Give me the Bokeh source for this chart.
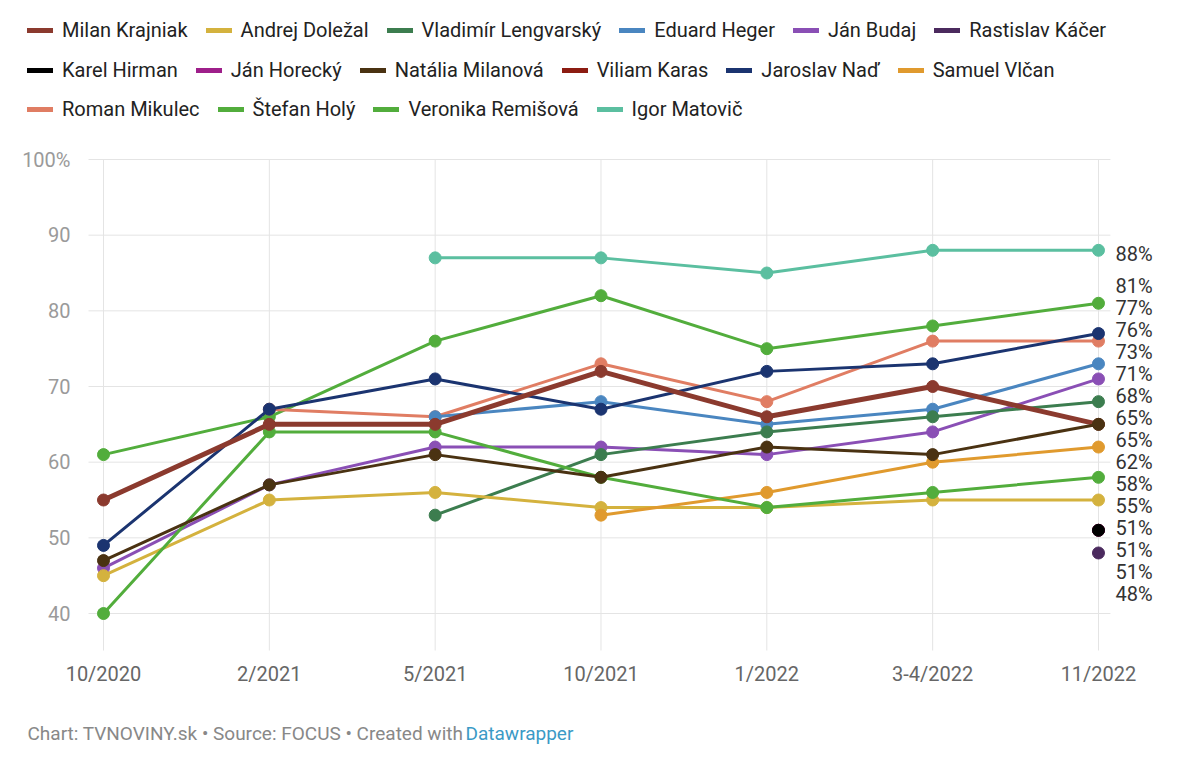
from bokeh.plotting import figure
from bokeh.models import (FixedTicker, Legend, LegendItem, LabelSet, Label,
                          ColumnDataSource, Range1d)
from bokeh.embed import file_html
from bokeh.resources import INLINE
from bokeh.core.properties import value

# ---------------- data ----------------
periods = ["10/2020", "2/2021", "5/2021", "10/2021", "1/2022", "3-4/2022", "11/2022"]

names = ["Milan Krajniak", "Andrej Doležal", "Vladimír Lengvarský", "Eduard Heger",
         "Ján Budaj", "Rastislav Káčer", "Karel Hirman", "Ján Horecký",
         "Natália Milanová", "Viliam Karas", "Jaroslav Naď", "Samuel Vlčan",
         "Roman Mikulec", "Štefan Holý", "Veronika Remišová", "Igor Matovič"]

colors = ["#8b3a2e", "#d4b23e", "#3c7d4f", "#4a86c0", "#8a4fb5", "#4b2a5e",
          "#000000", "#9e1f8a", "#4a3212", "#8c1c12", "#1b3470", "#e09a2e",
          "#e07d63", "#52ad3c", "#52ad3c", "#5bbfa0"]

krajniak   = [55, 65, 65, 72, 66, 70, 65]
dolezal    = [45, 55, 56, 54, 54, 55, 55]
lengvarsky = [None, None, 53, 61, 64, 66, 68]
heger      = [None, None, 66, 68, 65, 67, 73]
budaj      = [46, 57, 62, 62, 61, 64, 71]
kacer      = [None, None, None, None, None, None, 48]
hirman     = [None, None, None, None, None, None, 51]
horecky    = [None, None, None, None, None, None, 51]
milanova   = [47, 57, 61, 58, 62, 61, 65]
karas      = [None, None, None, None, None, None, 51]
nad        = [49, 67, 71, 67, 72, 73, 77]
vlcan      = [None, None, None, 53, 56, 60, 62]
mikulec    = [None, 67, 66, 73, 68, 76, 76]
holy       = [40, 64, 64, 58, 54, 56, 58]
remisova   = [61, 66, 76, 82, 75, 78, 81]
matovic    = [None, None, 87, 87, 85, 88, 88]

series = [krajniak, dolezal, lengvarsky, heger, budaj, kacer, hirman, horecky,
          milanova, karas, nad, vlcan, mikulec, holy, remisova, matovic]

# stacking order of the drawn series (first = bottom)
draw_names = ["Igor Matovič", "Veronika Remišová", "Roman Mikulec", "Viliam Karas",
              "Ján Horecký", "Karel Hirman", "Rastislav Káčer", "Ján Budaj",
              "Eduard Heger", "Jaroslav Naď", "Vladimír Lengvarský", "Andrej Doležal",
              "Samuel Vlčan", "Štefan Holý", "Milan Krajniak", "Natália Milanová"]

y_ticks = [40, 50, 60, 70, 80, 90, 100]

# ---------------- layout constants (pixels) ----------------
W, H = 1184, 760
FONT = "Roboto"
F_LEFT = 19                     # frame left edge (legend/footer start inside frame)
FRAME_W = W - F_LEFT
FRAME_H = H
PPU = 7.567                     # px per percentage point
TOP_100 = 159                   # pixel row of the 100 % gridline
Y_END = 100 + TOP_100 / PPU
Y_START = Y_END - FRAME_H / PPU
Y_AXIS_MIN = 35.11              # lower end of the plotting area
X_PX = 165.83                   # px per category step
X0_PX = 103                     # pixel column of the first category
X_START = -(X0_PX - F_LEFT) / X_PX
X_END = X_START + FRAME_W / X_PX
GRID_START = (88 - X0_PX) / X_PX
GRID_END = 6.072

xs = list(range(len(periods)))

p = figure(width=W, height=H, output_backend="svg", toolbar_location=None,
           x_range=Range1d(X_START, X_END), y_range=Range1d(Y_START, Y_END),
           min_border_left=F_LEFT, min_border_right=0,
           min_border_top=0, min_border_bottom=0)
p.outline_line_color = None
p.grid.visible = False

# axes (labels pulled inward with negative standoff)
p.xaxis.ticker = FixedTicker(ticks=xs)
p.xaxis.major_label_overrides = {i: lab for i, lab in enumerate(periods)}
p.yaxis.ticker = FixedTicker(ticks=y_ticks)
p.yaxis.major_label_overrides = {100: "100%"}
for ax in (p.xaxis, p.yaxis):
    ax.axis_line_color = None
    ax.major_tick_line_color = None
    ax.minor_tick_line_color = None
    ax.major_label_text_font = FONT
    ax.major_label_text_font_size = "20px"
p.xaxis.major_label_text_color = "#666666"
p.yaxis.major_label_text_color = "#9a9a9a"
p.yaxis.major_label_standoff = -(76 - F_LEFT)
p.xaxis.major_label_standoff = -(H - 655)

# gridlines limited to the plotting area
p.segment(x0=[GRID_START] * len(y_ticks), x1=[GRID_END] * len(y_ticks),
          y0=y_ticks, y1=y_ticks, line_color="#e4e4e4", line_width=1)
p.segment(x0=xs, x1=xs, y0=[Y_AXIS_MIN] * len(xs), y1=[100] * len(xs),
          line_color="#e4e4e4", line_width=1)

for nm in draw_names:
    i = names.index(nm)
    ys = [float("nan") if v is None else v for v in series[i]]
    src = ColumnDataSource(dict(x=xs, y=ys))
    lw = 5 if i == 0 else 3
    p.line("x", "y", source=src, line_color=colors[i], line_width=lw,
           line_cap="round", line_join="round")
    p.scatter("x", "y", source=src, size=12, fill_color=colors[i],
              line_color=colors[i], line_width=1)

# legend swatch renderers (draw nothing in the plot)
leg_r = [p.line(x=[float("nan")], y=[float("nan")], line_color=c, line_width=5,
                line_cap="round") for c in colors]

# right-hand value labels with simple collision avoidance
last = [(series[i][-1], i) for i in range(len(names)) if series[i][-1] is not None]
last.sort(key=lambda t: (-t[0], t[1]))
pos = [(Y_END - v) * PPU for v, _ in last]
GAP = 22.0
for _ in range(3000):
    for k in range(len(pos) - 1):
        d = pos[k + 1] - pos[k]
        if d < GAP:
            s = (GAP - d) / 2
            pos[k] -= s
            pos[k + 1] += s
lab_src = ColumnDataSource(dict(
    x=[xs[-1]] * len(last),
    y=[Y_END - (q + 4) / PPU for q in pos],
    t=["%d%%" % v for v, _ in last]))
p.add_layout(LabelSet(x="x", y="y", text="t", source=lab_src, x_offset=17,
                      text_baseline="middle", text_align="left",
                      text_font=value(FONT), text_font_size="20px",
                      text_color="#333333"))

# legend rows (inside the frame, above the plotting area)
rows = [list(range(0, 6)), list(range(6, 12)), list(range(12, 16))]
row_tops = [22, 62, 101]
for row, top in zip(rows, row_tops):
    items = [LegendItem(label=names[i], renderers=[leg_r[i]]) for i in row]
    lg = Legend(items=items, orientation="horizontal",
                location=(27 - F_LEFT, H - top - 20),
                glyph_width=26, glyph_height=20, label_height=20,
                label_standoff=9, spacing=18, padding=0, margin=0,
                border_line_color=None, background_fill_alpha=0,
                label_text_font=FONT, label_text_font_size="20px",
                label_text_color="#222222")
    p.add_layout(lg, "center")

# footer
p.add_layout(Label(x=27 - F_LEFT, y=H - 733, x_units="screen", y_units="screen",
                   text="Chart: TVNOVINY.sk • Source: FOCUS • Created with",
                   text_font=FONT, text_font_size="19px", text_color="#888888",
                   text_baseline="middle"))
p.add_layout(Label(x=465 - F_LEFT, y=H - 733, x_units="screen", y_units="screen",
                   text="Datawrapper", text_font=FONT, text_font_size="19px",
                   text_color="#3b9ac6", text_baseline="middle"))

open("out.html", "w").write(file_html(p, INLINE))
